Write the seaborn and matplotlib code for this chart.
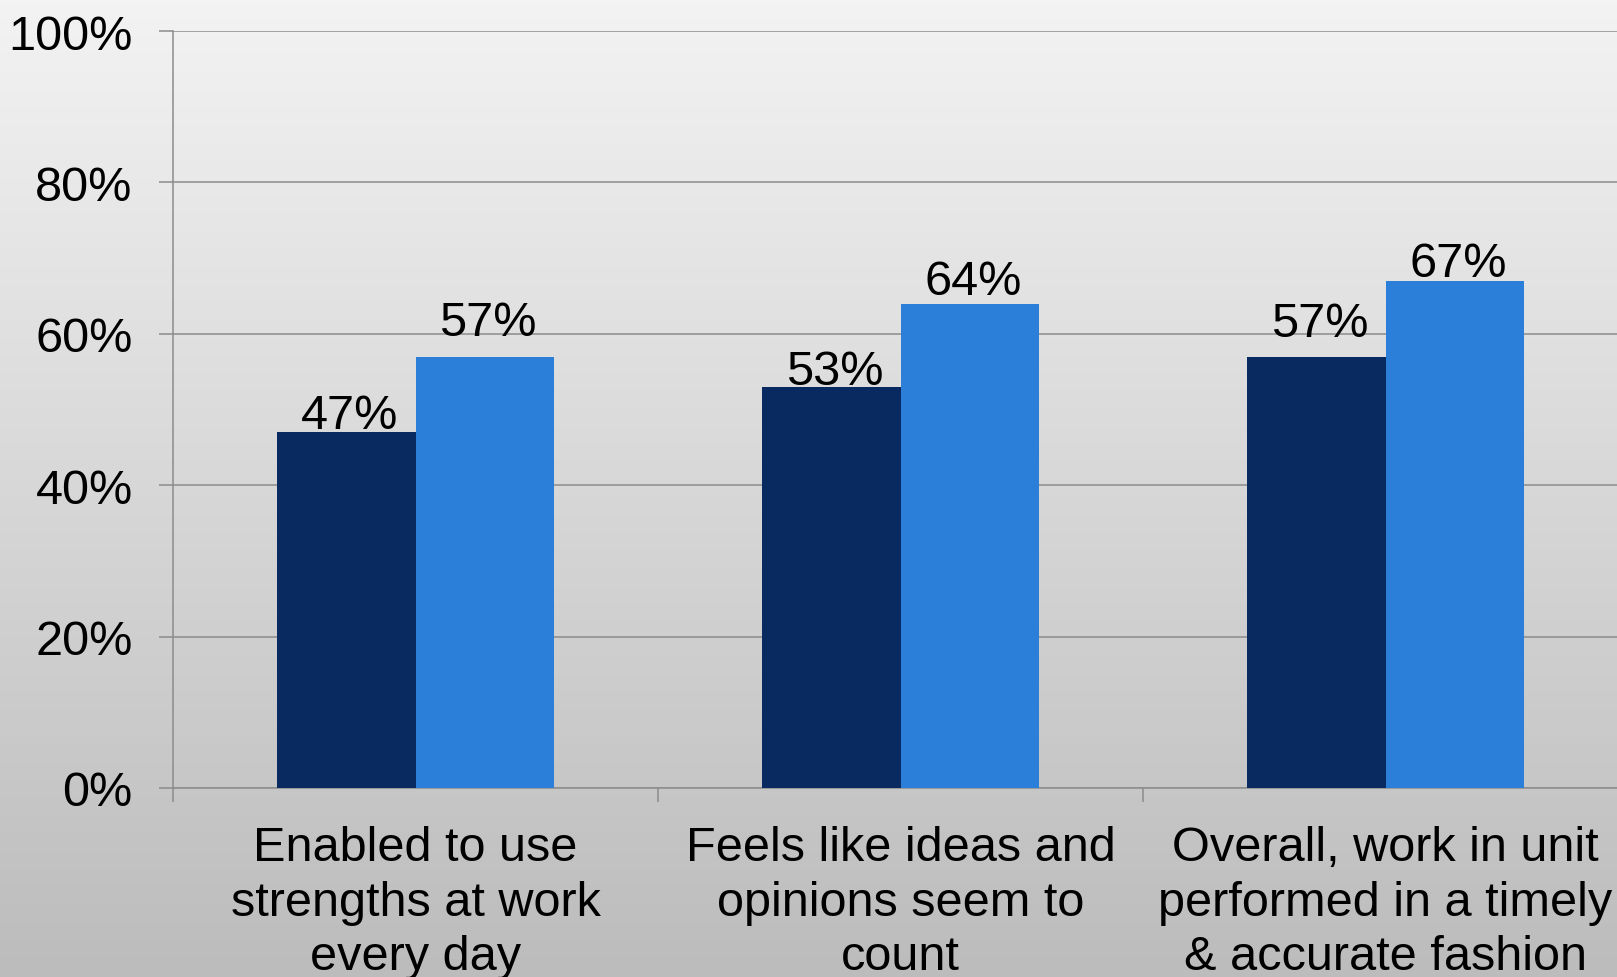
import numpy as np
import pandas as pd
import matplotlib
matplotlib.use("Agg")
import matplotlib.pyplot as plt
import seaborn as sns

categories = ["Enabled to use\nstrengths at work\nevery day",
              "Feels like ideas and\nopinions seem to\ncount",
              "Overall, work in unit\nperformed in a timely\n& accurate fashion"]
series_names = ["Series 1", "Series 2"]
series1 = [47, 53, 57]
series2 = [57, 64, 67]
ytick_values = [0, 20, 40, 60, 80, 100]
ytick_labels = ["0%", "20%", "40%", "60%", "80%", "100%"]

# vertical gap (px) between each value label baseline and its bar top, as placed in the source
label_gap_s1 = [4, 3, 21]
label_gap_s2 = [22, 10, 5]

colors = ["#092a61", "#2b7fd8"]

df = pd.DataFrame({
    "category": categories * 2,
    "series": [series_names[0]] * 3 + [series_names[1]] * 3,
    "value": series1 + series2,
})

sns.set_theme(style="white")
plt.rcParams["font.family"] = ["Liberation Sans", "DejaVu Sans"]

W, H = 1617, 978
fig = plt.figure(figsize=(W / 100, H / 100), dpi=100)

# background gradient
bg = fig.add_axes([0, 0, 1, 1], zorder=-10)
grad = np.linspace(0, 1, 256).reshape(-1, 1)
top = np.array([243, 243, 243]) / 255
bot = np.array([188, 188, 188]) / 255
img = top[None, None, :] * (1 - grad[:, :, None]) + bot[None, None, :] * grad[:, :, None]
bg.imshow(img, aspect="auto", extent=[0, 1, 0, 1])
bg.set_axis_off()

left, right = 173 / W, 1628 / W
bottom, topy = (H - 789) / H, (H - 32) / H
ax = fig.add_axes([left, bottom, right - left, topy - bottom])
ax.set_facecolor("none")

sns.barplot(data=df, x="category", y="value", hue="series", palette=colors,
            width=0.57, saturation=1, linewidth=0, legend=False, ax=ax, zorder=3)

ax.set_xlim(-0.5, 2.5)
ax.set_ylim(0, 100)
ax.set_yticks(ytick_values)
ax.set_yticklabels(ytick_labels)
ax.yaxis.grid(True, color="#8c8c8c", linewidth=1.1, zorder=0)
ax.set_axisbelow(True)
ax.set_xlabel("")
ax.set_ylabel("")

for s in ["top", "right"]:
    ax.spines[s].set_visible(False)
for s in ["left", "bottom"]:
    ax.spines[s].set_color("#8c8c8c")
    ax.spines[s].set_linewidth(1.1)

ax.tick_params(axis="y", which="major", length=10, width=1.1, color="#8c8c8c",
               labelsize=35, pad=19, left=True, direction="out")
ax.tick_params(axis="x", which="major", length=0, labelsize=35, pad=27)
ax.set_xticks([-0.5, 0.5, 1.5, 2.5], minor=True)
ax.tick_params(axis="x", which="minor", length=10, width=1.1, color="#8c8c8c",
               bottom=True, direction="out")
for lab in ax.get_xticklabels():
    lab.set_linespacing(1.26)
    lab.set_color("black")
for lab in ax.get_yticklabels():
    lab.set_color("black")

for cont, gaps in zip(ax.containers, [label_gap_s1, label_gap_s2]):
    for rect, gap in zip(cont, gaps):
        h = rect.get_height()
        ax.annotate(f"{h:.0f}%", (rect.get_x() + rect.get_width() / 2, h),
                    xytext=(2.5, gap * 0.72), textcoords="offset points",
                    ha="center", va="baseline", fontsize=35, color="black", zorder=5)

fig.savefig("out.png", dpi=100)
